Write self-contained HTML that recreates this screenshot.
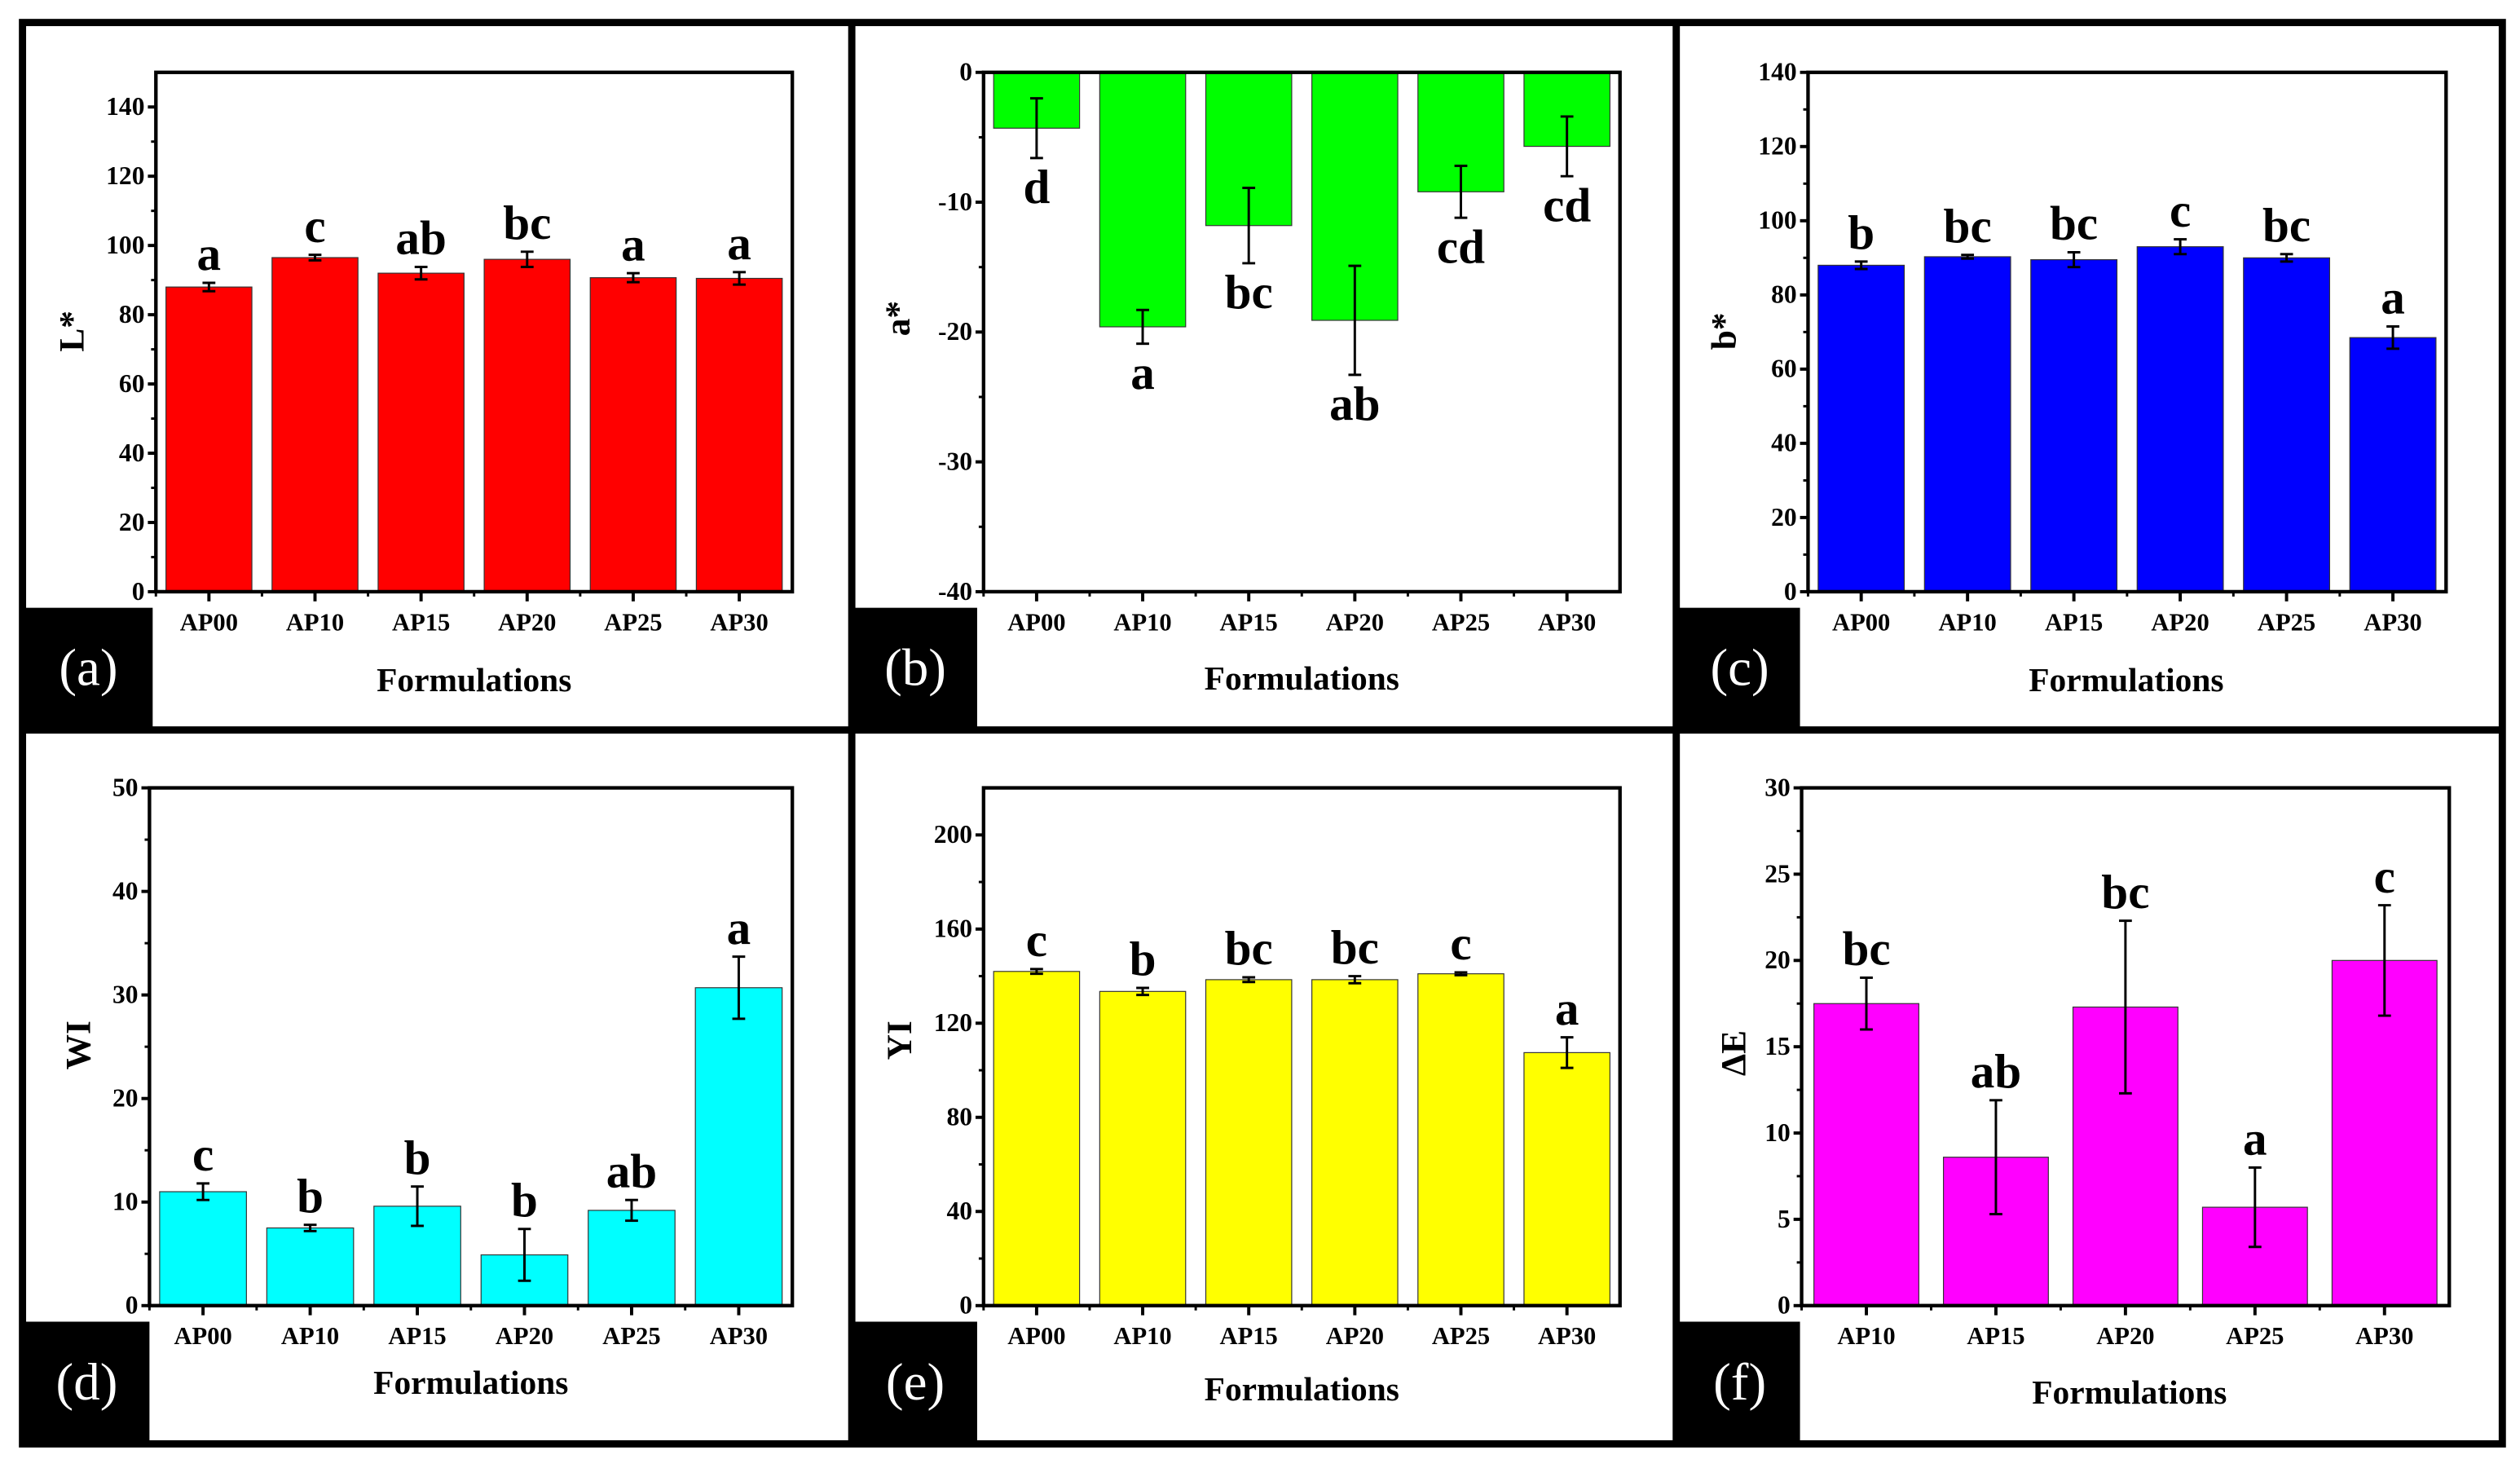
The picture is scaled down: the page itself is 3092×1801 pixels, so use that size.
<!DOCTYPE html>
<html><head><meta charset="utf-8"><style>
html,body{margin:0;padding:0;background:#fff;}
svg{display:block;}
text{font-family:"Liberation Serif",serif;}
</style></head><body>
<svg id="fig" width="3092" height="1801" viewBox="0 0 1568 913" preserveAspectRatio="none" xmlns="http://www.w3.org/2000/svg">
<rect x="0" y="0" width="1568" height="913" fill="#fff"/>
</svg>
<script>
const cats6 = ["AP00","AP10","AP15","AP20","AP25","AP30"];
const cats5 = ["AP10","AP15","AP20","AP25","AP30"];
const valsL = [88, 96.5, 92, 96, 90.7, 90.5];
const errL  = [1.2, 0.8, 1.8, 2.2, 1.3, 1.8];
const letL  = ["a","c","ab","bc","a","a"];
const valsA = [-4.3, -19.6, -11.8, -19.1, -9.2, -5.7];
const errA  = [2.3, 1.3, 2.9, 4.2, 2.0, 2.3];
const letA  = ["d","a","bc","ab","cd","cd"];
const valsB = [88, 90.3, 89.5, 93, 90, 68.5];
const errB  = [1, 0.5, 2, 2, 1, 3];
const letB  = ["b","bc","bc","c","bc","a"];
const valsW = [11, 7.5, 9.6, 4.9, 9.2, 30.7];
const errW  = [0.8, 0.3, 1.9, 2.5, 1.0, 3.0];
const letW  = ["c","b","b","b","ab","a"];
const valsY = [142, 133.5, 138.5, 138.5, 141, 107.5];
const errY  = [1, 1.5, 1, 1.5, 0.6, 6.5];
const letY  = ["c","b","bc","bc","c","a"];
const valsE = [17.5, 8.6, 17.3, 5.7, 20];
const errE  = [1.5, 3.3, 5.0, 2.3, 3.2];
const letE  = ["bc","ab","bc","a","c"];
const ticksL = [0,20,40,60,80,100,120,140];
const ticksA = [0,-10,-20,-30,-40];
const ticksB = [0,20,40,60,80,100,120,140];
const ticksW = [0,10,20,30,40,50];
const ticksY = [0,40,80,120,160,200];
const ticksE = [0,5,10,15,20,25,30];

const NS="http://www.w3.org/2000/svg";
const svg=document.getElementById('fig');
function el(tag,attrs,parent){const e=document.createElementNS(NS,tag);for(const k in attrs)e.setAttribute(k,attrs[k]);(parent||svg).appendChild(e);return e;}

function panel(o){
  const g=el('g',{});
  
  
  const {x0,x1,y0,y1,ymin,ymax}=o;
  const ys=v=>y1-(v-ymin)/(ymax-ymin)*(y1-y0);
  const n=o.cats.length, step=(x1-x0)/n;
  const xc=i=>x0+step*(i+0.5);
  const bw=step*0.81;
  const base=ys(Math.max(ymin,Math.min(0,ymax)));
  o.vals.forEach((v,i)=>{
    const yv=ys(v);
    const r=el('rect',{x:xc(i)-bw/2,y:Math.min(yv,base),width:bw,height:Math.abs(base-yv),fill:o.color,stroke:'#333','stroke-width':0.6},g);
    
    
    const e=o.errs[i], ya=ys(v+e), yb=ys(v-e);
    const eg=el('g',{stroke:'#000','stroke-width':1.5},g);
    
    
    el('line',{x1:xc(i),x2:xc(i),y1:ya,y2:yb},eg);
    el('line',{x1:xc(i)-4,x2:xc(i)+4,y1:ya,y2:ya},eg);
    el('line',{x1:xc(i)-4,x2:xc(i)+4,y1:yb,y2:yb},eg);
    let ly;
    if(v>=0) ly=Math.min(ya,yv)-8; else ly=Math.max(yb,yv)+28;
    const t=el('text',{x:xc(i),y:ly,'text-anchor':'middle','font-size':30,'font-weight':'bold',fill:'#000'},g);
    t.textContent=o.letters[i];
    
    
  });
  // axes frame
  const fr=el('rect',{x:x0,y:y0,width:x1-x0,height:y1-y0,fill:'none',stroke:'#000','stroke-width':2.2},g);
  
  
  // y ticks
  const tk=o.ticks, d=tk[1]-tk[0];
  tk.forEach((t,i)=>{
    const y=ys(t);
    el('line',{x1:x0-5,x2:x0,y1:y,y2:y,stroke:'#000','stroke-width':2},g);
    const tt=el('text',{x:x0-7,y:y+5,'text-anchor':'end','font-size':16,'font-weight':'bold'},g);
    tt.textContent=t<0?'-'+Math.abs(t):t;
    
    
    const m=t+d/2;
    if((m-ymin)*(m-ymax)<0) el('line',{x1:x0-3,x2:x0,y1:ys(m),y2:ys(m),stroke:'#000','stroke-width':1.5},g);
  });
  // x ticks
  o.cats.forEach((c,i)=>{
    el('line',{x1:xc(i),x2:xc(i),y1:y1,y2:y1+6,stroke:'#000','stroke-width':2},g);
    el('line',{x1:x0+step*i,x2:x0+step*i,y1:y1,y2:y1+3,stroke:'#000','stroke-width':1.5},g);
    const tt=el('text',{x:xc(i),y:y1+24,'text-anchor':'middle','font-size':15.5,'font-weight':'bold'},g);
    tt.textContent=c;
    
    
  });
  const xt=el('text',{x:o.xtx,y:o.xty,'text-anchor':'middle','font-size':21,'font-weight':'bold'},g);
  xt.textContent='Formulations';
  
  
  const yt=el('text',{x:0,y:0,'text-anchor':'middle','font-size':22,'font-weight':'bold',transform:`translate(${o.ytx},${o.yty}) rotate(-90)`},g);
  yt.textContent=o.ylab;
  
  
  const lb=el('rect',{x:o.bx0,y:o.by0,width:o.bx1-o.bx0,height:o.by1-o.by0,fill:'#000'},g);
  
  
  const lt=el('text',{x:(o.bx0+o.bx1)/2,y:(o.by0+o.by1)/2+11,'text-anchor':'middle','font-size':33,fill:'#fff'},g);
  lt.textContent=o.tag;
  
  
}

panel({name:'panel-a-lightness',x0:97,x1:493,y0:45,y1:368,ymin:0,ymax:150,cats:cats6,vals:valsL,errs:errL,letters:letL,ticks:ticksL,color:'#ff0000',ylab:'L*',ytx:52,yty:206,xtx:295,xty:430,bx0:15,bx1:95,by0:378,by1:452,tag:'(a)'});
panel({name:'panel-b-redness',x0:612,x1:1008,y0:45,y1:368,ymin:-40,ymax:0,cats:cats6,vals:valsA,errs:errA,letters:letA,ticks:ticksA,color:'#00ff00',ylab:'a*',ytx:566,yty:198,xtx:810,xty:429,bx0:531,bx1:608,by0:378,by1:452,tag:'(b)'});
panel({name:'panel-c-yellowness',x0:1125,x1:1522,y0:45,y1:368,ymin:0,ymax:140,cats:cats6,vals:valsB,errs:errB,letters:letB,ticks:ticksB,color:'#0000ff',ylab:'b*',ytx:1080,yty:206,xtx:1323,xty:430,bx0:1045,bx1:1120,by0:378,by1:452,tag:'(c)'});
panel({name:'panel-d-whiteness-index',x0:93,x1:493,y0:490,y1:812,ymin:0,ymax:50,cats:cats6,vals:valsW,errs:errW,letters:letW,ticks:ticksW,color:'#00ffff',ylab:'WI',ytx:56,yty:650,xtx:293,xty:867,bx0:15,bx1:93,by0:822,by1:897,tag:'(d)'});
panel({name:'panel-e-yellowness-index',x0:612,x1:1008,y0:490,y1:812,ymin:0,ymax:220,cats:cats6,vals:valsY,errs:errY,letters:letY,ticks:ticksY,color:'#ffff00',ylab:'YI',ytx:567,yty:647,xtx:810,xty:871,bx0:531,bx1:608,by0:822,by1:897,tag:'(e)'});
panel({name:'panel-f-color-difference',x0:1121,x1:1524,y0:490,y1:812,ymin:0,ymax:30,cats:cats5,vals:valsE,errs:errE,letters:letE,ticks:ticksE,color:'#ff00ff',ylab:'ΔE',ytx:1086,yty:655,xtx:1325,xty:873,bx0:1045,bx1:1120,by0:822,by1:897,tag:'(f)'});

// outer frame and dividers
const fg=el('g',{stroke:'#000','stroke-width':4.5,fill:'none'});


el('rect',{x:14,y:14,width:1543,height:884},fg);
el('line',{x1:530,x2:530,y1:14,y2:898},fg);
el('line',{x1:1043,x2:1043,y1:14,y2:898},fg);
el('line',{x1:14,x2:1557,y1:454,y2:454},fg);
</script>
</body></html>
